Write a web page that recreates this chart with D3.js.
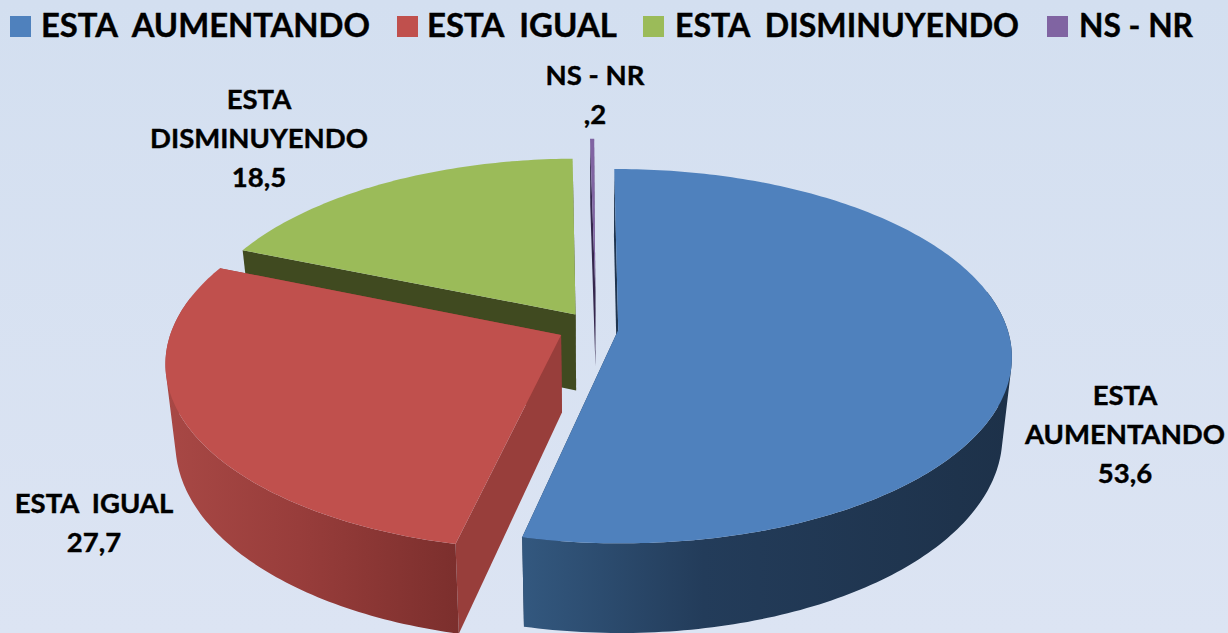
<!DOCTYPE html>
<html>
<head>
  <meta charset="utf-8">
  <script src="https://d3js.org/d3.v7.min.js"></script>
  <style type="text/css">
    html, body { margin: 0; padding: 0; overflow: hidden; }
    text {
      font-family: Lato, "Open Sans", sans-serif;
      font-weight: 700;
      fill: #000;
      stroke: #000;
      stroke-width: 0.4px;
      white-space: pre;
    }
  </style>
</head>
<body>
  <div id="chartContainer"></div>

  <script type="text/javascript">
    // values
    var categories = ['ESTA  AUMENTANDO', 'ESTA  IGUAL', 'ESTA  DISMINUYENDO', 'NS - NR'];
    var values = [53.6, 27.7, 18.5, 0.2];
    var valueLabels = ['53,6', '27,7', '18,5', ',2'];
    var labelLines = [['ESTA', 'AUMENTANDO'], ['ESTA  IGUAL'], ['ESTA', 'DISMINUYENDO'], ['NS - NR']];

    // colours per slice: top face, radial wall, outer wall shading left to right
    var topColors = ['#4f81bd', '#c0504d', '#9bbb59', '#8064a2'];
    var cutColors = ['#1f3550', '#983e3b', '#404a20', '#35274d'];
    var wallColors = [
      ['#33587f', '#233c5a', '#1d3149'],
      ['#a84845', '#983d3b', '#7c2f2d'],
      ['#404a20', '#404a20', '#404a20'],
      ['#35274d', '#35274d', '#35274d']
    ];
    var wallMidStop = [0.37, 0.46, 0.5, 0.5];

    // layout
    var width = 1228, height = 633;
    var cx = 587, cy = 328, vanishX = 600;
    var radiusX = 390, radiusY = 183.5;
    var perspective = 0.14, depth = 77, bottomShrink = 0.977;
    // how far each slice is pulled out, in pie radii (across, towards viewer)
    var shiftU = [0.08, -0.066, -0.03, 0.021];
    var shiftV = [0.011, 0.038, -0.075, -0.205];
    var rimScale = [0.997, 0.997, 0.985, 1];
    var legendSwatchX = [10, 397, 643, 1047];
    var legendTextX = [41, 427, 675, 1079];
    var legendTextWidth = [329, 190, 344, 114];
    var labelX = [1125, 94, 259, 595];
    var labelY = [405, 513, 109, 85];
    var lineGap = 39;

    var svg = d3.select('#chartContainer').append('svg')
      .attr('width', width)
      .attr('height', height);

    var defs = svg.append('defs');
    var bg = defs.append('linearGradient').attr('id', 'bg')
      .attr('x1', 0).attr('y1', 0).attr('x2', 0).attr('y2', 1);
    bg.append('stop').attr('offset', '0%').attr('stop-color', '#d3dff0');
    bg.append('stop').attr('offset', '100%').attr('stop-color', '#dce4f3');

    svg.append('rect')
      .attr('width', width)
      .attr('height', height)
      .attr('fill', 'url(#bg)');

    var pie = d3.pie().sort(null).value(function(d) { return d; })
      .startAngle(-0.005).endAngle(2 * Math.PI - 0.005);
    var slices = pie(values);
    var line = d3.line();

    // pie plane -> screen, r is 0 at the apex and 1 on the rim
    function project(i, angle, r, bottom) {
      var u = Math.sin(angle) * r * rimScale[i] + shiftU[i],
          v = -Math.cos(angle) * r * rimScale[i] + shiftV[i],
          s = 1 / (1 - perspective * v),
          x = vanishX + (cx - vanishX + radiusX * u) * s,
          y = cy + radiusY * v * s;
      if (bottom) {
        x = vanishX + (x - vanishX) * bottomShrink;
        y = y + depth * s;
      }
      return [x, y];
    }

    function rimAngles(d) {
      var steps = Math.max(4, Math.ceil((d.endAngle - d.startAngle) * 60));
      var angle = d3.scaleLinear().domain([0, steps]).range([d.startAngle, d.endAngle]);
      return d3.range(steps + 1).map(angle);
    }

    function cutWall(i, a) {
      return line([
        project(i, a, 0, false),
        project(i, a, 1, false),
        project(i, a, 1, true),
        project(i, a, 0, true)
      ]) + 'Z';
    }

    // outer wall: quads in one path so no seams show, front part of the rim only.
    // every quad wound the same way or the overlaps cancel at the silhouette
    function outerWall(i, angles) {
      return d3.pairs(angles).filter(function(p) {
        return -Math.cos(p[0]) > -0.2 || -Math.cos(p[1]) > -0.2;
      }).map(function(p) {
        var quad = [
          project(i, p[0], 1, false),
          project(i, p[1], 1, false),
          project(i, p[1], 1, true),
          project(i, p[0], 1, true)
        ];
        if (d3.polygonArea(quad) < 0) quad.reverse();
        return line(quad) + 'Z';
      }).join('');
    }

    // paint back to front
    [2, 3, 1, 0].forEach(function(i) {
      var d = slices[i];
      var angles = rimAngles(d);
      var top = angles.map(function(a) { return project(i, a, 1, false); });
      var xExtent = d3.extent(top, function(p) { return p[0]; });

      var gradient = defs.append('linearGradient')
        .attr('id', 'wall' + i)
        .attr('gradientUnits', 'userSpaceOnUse')
        .attr('x1', xExtent[0]).attr('y1', 0)
        .attr('x2', xExtent[1]).attr('y2', 0);
      gradient.selectAll('stop').data(wallColors[i]).enter().append('stop')
        .attr('offset', function(c, k) { return k === 1 ? wallMidStop[i] : k / 2; })
        .attr('stop-color', function(c) { return c; });

      var g = svg.append('g').attr('class', 'slice');
      g.append('path').attr('d', cutWall(i, d.endAngle)).attr('fill', cutColors[i]);
      g.append('path').attr('d', cutWall(i, d.startAngle)).attr('fill', cutColors[i]);
      g.append('path')
        .attr('d', outerWall(i, angles))
        .attr('fill', 'url(#wall' + i + ')');
      g.append('path')
        .attr('d', line([project(i, 0, 0, false)].concat(top)) + 'Z')
        .attr('fill', topColors[i]);
    });

    // legend
    var legend = svg.selectAll('.legend').data(categories).enter()
      .append('g').attr('class', 'legend');
    legend.append('rect')
      .attr('x', function(d, i) { return legendSwatchX[i]; })
      .attr('y', 16)
      .attr('width', 21)
      .attr('height', 21)
      .attr('fill', function(d, i) { return topColors[i]; });
    legend.append('text')
      .attr('x', function(d, i) { return legendTextX[i]; })
      .attr('y', 37)
      .attr('textLength', function(d, i) { return legendTextWidth[i]; })
      .attr('lengthAdjust', 'spacingAndGlyphs')
      .style('font-size', '32.5px')
      .text(function(d) { return d; });

    // data labels
    labelLines.forEach(function(lines, i) {
      var label = svg.append('text')
        .attr('class', 'label')
        .attr('text-anchor', 'middle')
        .style('font-size', '27.5px');
      lines.concat(valueLabels[i]).forEach(function(t, k) {
        label.append('tspan')
          .attr('x', labelX[i])
          .attr('y', labelY[i] + k * lineGap)
          .text(t);
      });
    });
  </script>
</body>
</html>
